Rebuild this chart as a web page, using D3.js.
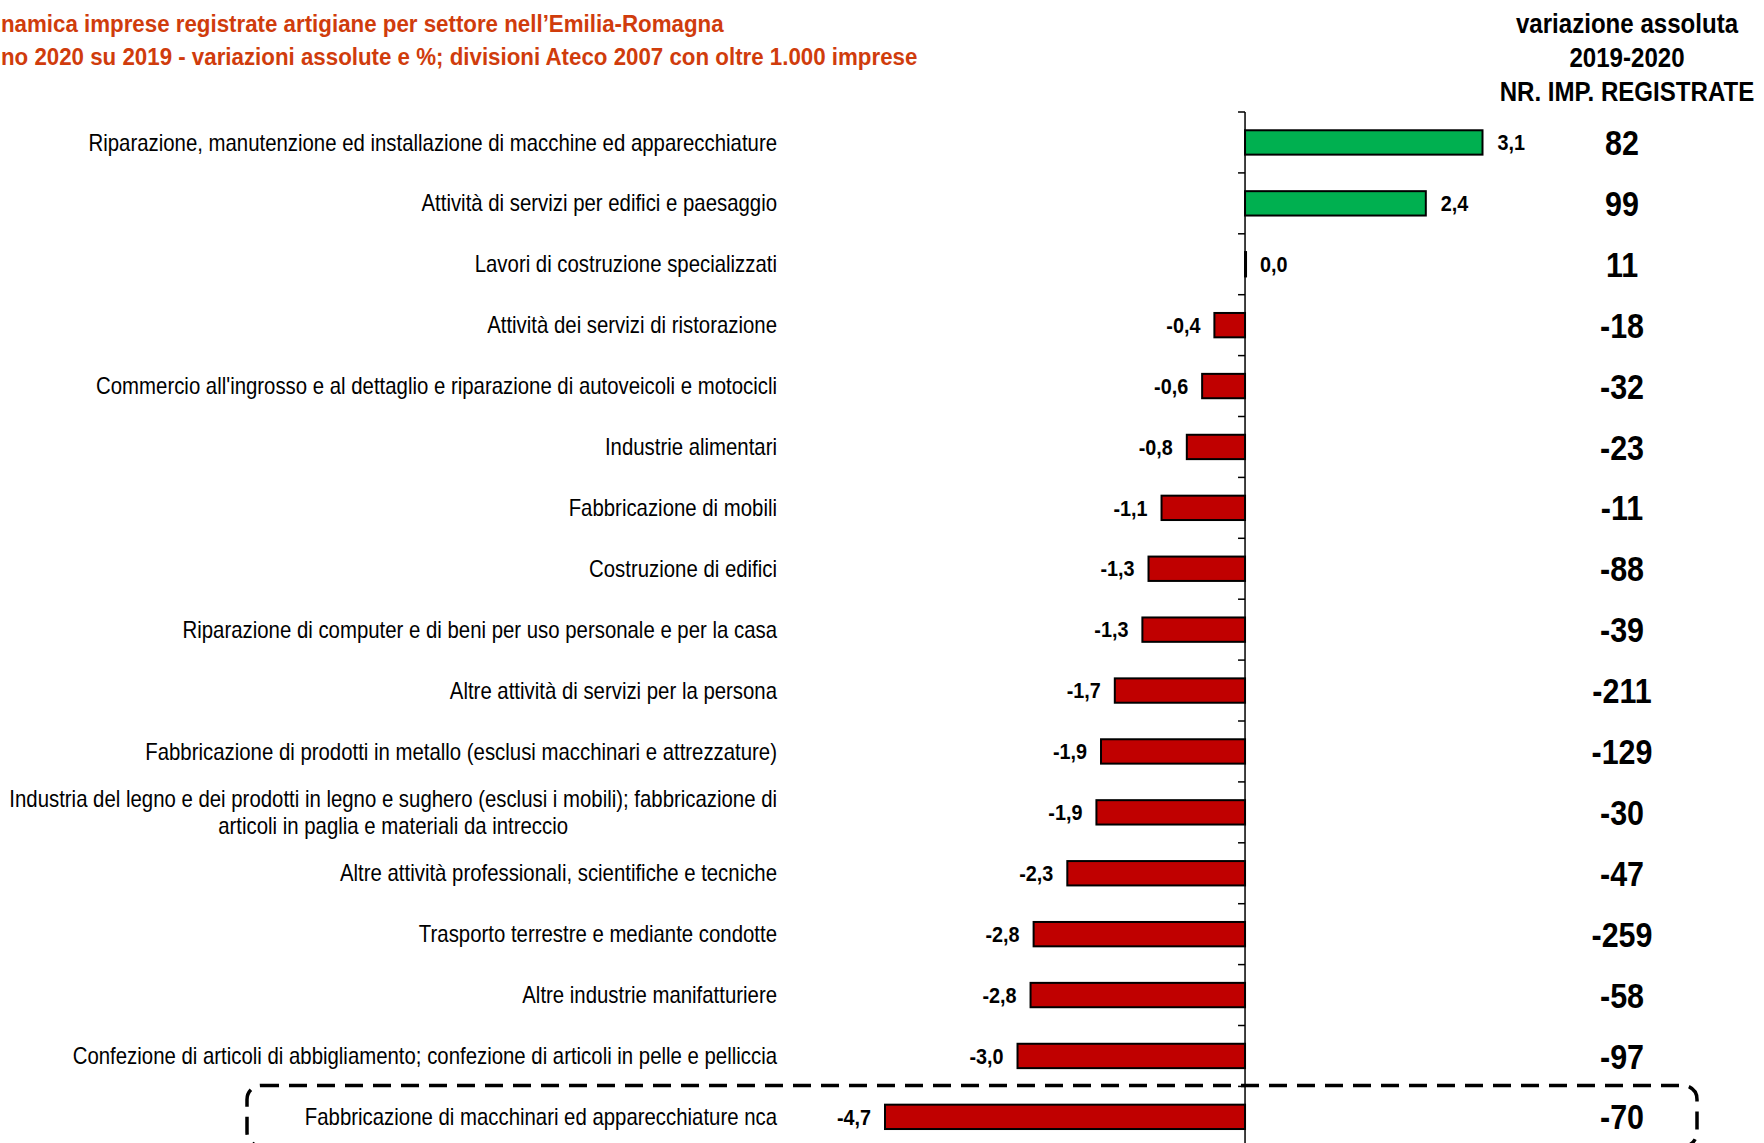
<!DOCTYPE html>
<meta charset="utf-8">
<head>
  <style>
    body { margin: 0; background: white; }
    text { font-family: "Liberation Sans Narrow", "Arial Narrow", "Liberation Sans", sans-serif; }
  </style>
  <script src="https://cdn.jsdelivr.net/npm/d3@7"></script>
</head>
<body>
<script>
  // data
  const titleLines = [
    "Dinamica imprese registrate artigiane per settore nell’Emilia-Romagna",
    "Anno 2020 su 2019 - variazioni assolute e %; divisioni Ateco 2007 con oltre 1.000 imprese"
  ];
  const titleCut = ["Di", "An"];   // part of each title line that falls off the left edge
  const headerLines = ["variazione assoluta", "2019-2020", "NR. IMP. REGISTRATE"];

  const categories = [
    "Riparazione, manutenzione ed installazione di macchine ed apparecchiature",
    "Attività di servizi per edifici e paesaggio",
    "Lavori di costruzione specializzati",
    "Attività dei servizi di ristorazione",
    "Commercio all'ingrosso e al dettaglio e riparazione di autoveicoli e motocicli",
    "Industrie alimentari",
    "Fabbricazione di mobili",
    "Costruzione di edifici",
    "Riparazione di computer e di beni per uso personale e per la casa",
    "Altre attività di servizi per la persona",
    "Fabbricazione di prodotti in metallo (esclusi macchinari e attrezzature)",
    "Industria del legno e dei prodotti in legno e sughero (esclusi i mobili); fabbricazione di\narticoli in paglia e materiali da intreccio",
    "Altre attività professionali, scientifiche e tecniche",
    "Trasporto terrestre e mediante condotte",
    "Altre industrie manifatturiere",
    "Confezione di articoli di abbigliamento; confezione di articoli in pelle e pelliccia",
    "Fabbricazione di macchinari ed apparecchiature nca"
  ];
  // variazione % 2020 su 2019
  const pctChange = [3.10, 2.36, 0.0, -0.40, -0.56, -0.76, -1.09, -1.26, -1.34, -1.70, -1.88, -1.94, -2.32, -2.76, -2.80, -2.97, -4.70];
  // variazione assoluta, nr. imprese registrate
  const absChange = [82, 99, 11, -18, -32, -23, -11, -88, -39, -211, -129, -30, -47, -259, -58, -97, -70];
  const highlighted = "Fabbricazione di macchinari ed apparecchiature nca";

  const W = 1764, H = 1143;
  const labelRight = 777, rightCol = 1622, headerCol = 1627;

  const it = d3.formatLocale({decimal: ",", thousands: ".", grouping: [3], currency: ["€", ""], minus: "-"});
  const fmtPct = it.format(".1f");
  const fmtAbs = it.format("d");

  // no narrow font installed: squeeze the regular one
  function squeeze(sel, fx, fy, sx) {
    sel.attr("transform", (d, i) => "translate(" + fx(d, i) + "," + fy(d, i) + ") scale(" + sx + ",1)");
  }

  const svg = d3.create("svg:svg")
    .attr("xmlns", "http://www.w3.org/2000/svg")
    .attr("width", W)
    .attr("height", H)
    .style("display", "block")
    .style("background-color", "white")
    ;
  d3.select("body").append(() => svg.node());

  const x = d3.scaleLinear()
    .domain([-4.7, 3.1])
    .range([885, 1482.5])
    ;
  const y = d3.scaleBand()
    .domain(categories)
    .range([112, 112 + 60.9 * categories.length])
    .paddingInner(0.6)
    .paddingOuter(0.3)
    ;
  const step = y.step();
  const rowTop = d => y(d) - step * y.paddingInner() / 2;
  const rowMid = d => y(d) + y.bandwidth() / 2;

  // title, cut at the left edge as in the original
  const tsx = 0.93;
  const title = svg.append("g").selectAll("text").data(titleLines).enter().append("text")
    .attr("fill", "#d03c0c")
    .attr("font-weight", "bold")
    .attr("font-size", 24)
    .text(d => d);
  squeeze(title, function(d, i) {
    const t = svg.append("text").attr("font-weight", "bold").attr("font-size", 24).text(titleCut[i]);
    const w = t.node().getComputedTextLength();
    t.remove();
    return 1 - w * tsx;
  }, (d, i) => 32 + i * 33, tsx);

  // header of the right column
  const head = svg.append("g").selectAll("text").data(headerLines).enter().append("text")
    .attr("text-anchor", "middle")
    .attr("font-weight", "bold")
    .attr("font-size", 28)
    .text(d => d);
  squeeze(head, () => headerCol, (d, i) => 33 + i * 34, 0.86);

  // bars
  svg.append("g").selectAll("rect").data(categories).enter().append("rect")
    .attr("x", (d, i) => Math.min(x(0), x(pctChange[i])))
    .attr("y", d => y(d))
    .attr("width", (d, i) => Math.max(1, Math.abs(x(pctChange[i]) - x(0))))
    .attr("height", y.bandwidth())
    .attr("fill", (d, i) => pctChange[i] > 0 ? "#00b050" : (pctChange[i] < 0 ? "#c00000" : "black"))
    .attr("stroke", "black")
    .attr("stroke-width", 2);

  // axis with ticks between the rows
  const axis = svg.append("g");
  axis.append("line")
    .attr("x1", x(0)).attr("x2", x(0))
    .attr("y1", rowTop(categories[0])).attr("y2", H)
    .attr("stroke", "black").attr("stroke-width", 1.5);
  axis.selectAll(".tick").data(categories).enter().append("line")
    .attr("class", "tick")
    .attr("x1", x(0) - 7).attr("x2", x(0))
    .attr("y1", d => rowTop(d)).attr("y2", d => rowTop(d))
    .attr("stroke", "black").attr("stroke-width", 1.5);

  // value labels
  const vals = svg.append("g").selectAll("text").data(categories).enter().append("text")
    .attr("dy", "0.35em")
    .attr("text-anchor", (d, i) => pctChange[i] < 0 ? "end" : "start")
    .attr("font-weight", "bold")
    .attr("font-size", 22)
    .text((d, i) => fmtPct(pctChange[i]));
  squeeze(vals, (d, i) => pctChange[i] < 0 ? x(pctChange[i]) - 14 : x(pctChange[i]) + 15, d => rowMid(d), 0.9);

  // category labels (multi-line ones centred inside a right-aligned block)
  const lsx = 0.886;
  const lab = svg.append("g").attr("font-size", 23).attr("fill", "black");
  categories.forEach(function(c) {
    const lines = c.split("\n");
    const t = lab.append("text")
      .attr("transform", "translate(" + labelRight + "," + (rowMid(c) - (lines.length - 1) * 13.5) + ") scale(" + lsx + ",1)");
    lines.forEach(function(l, j) {
      t.append("tspan").attr("x", 0).attr("dy", j === 0 ? "0.35em" : 27).text(l);
    });
    const wMax = d3.max(t.selectAll("tspan").nodes(), n => n.getComputedTextLength());
    t.selectAll("tspan")
      .attr("text-anchor", "middle")
      .attr("x", -wMax / 2);
  });

  // right column: absolute change
  const abs = svg.append("g").selectAll("text").data(categories).enter().append("text")
    .attr("dy", "0.36em")
    .attr("text-anchor", "middle")
    .attr("font-weight", "bold")
    .attr("font-size", 35)
    .text((d, i) => fmtAbs(absChange[i]));
  squeeze(abs, () => rightCol, d => rowMid(d), 0.87);

  // dashed box round the highlighted row
  svg.append("rect")
    .attr("x", 247)
    .attr("y", rowTop(highlighted) - 1)
    .attr("width", 1697 - 247)
    .attr("height", step)
    .attr("rx", 14)
    .attr("fill", "none")
    .attr("stroke", "black")
    .attr("stroke-width", 3.5)
    .attr("stroke-dasharray", "18,10");

</script>
</body>
</html>
